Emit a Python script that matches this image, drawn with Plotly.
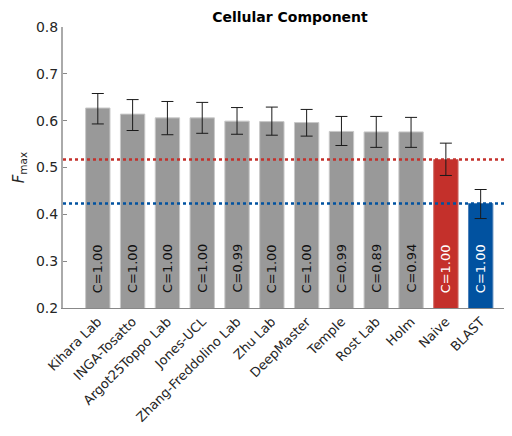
import plotly.graph_objects as go

categories = ["Kihara Lab", "INGA-Tosatto", "Argot25Toppo Lab", "Jones-UCL",
              "Zhang-Freddolino Lab", "Zhu Lab", "DeepMaster", "Temple",
              "Rost Lab", "Holm", "Naive", "BLAST"]
fmax = [0.627, 0.614, 0.606, 0.606, 0.599, 0.598, 0.596, 0.577, 0.576, 0.576, 0.517, 0.423]
err_hi = [0.658, 0.645, 0.641, 0.639, 0.628, 0.629, 0.624, 0.609, 0.609, 0.607, 0.552, 0.453]
err_lo = [0.593, 0.579, 0.570, 0.573, 0.571, 0.569, 0.567, 0.547, 0.543, 0.543, 0.483, 0.391]
coverage = ["1.00", "1.00", "1.00", "1.00", "0.99", "1.00", "1.00", "0.99", "0.89", "0.94", "1.00", "1.00"]

GRAY = "#999999"
RED = "#c4302b"
BLUE = "#0152a0"
colors = [GRAY] * 10 + [RED, BLUE]
edge = ["#c8c8c8"] * 10 + ["#d06a66", "#4d80b8"]
text_colors = ["#111111"] * 10 + ["white", "white"]

x = list(range(len(categories)))
YMIN, YMAX = 0.2, 0.8

fig = go.Figure()
fig.add_trace(go.Bar(
    x=x, y=fmax,
    width=0.7,
    marker=dict(color=colors, line=dict(color=edge, width=1)),
    error_y=dict(type="data", symmetric=False,
                 array=[h - v for h, v in zip(err_hi, fmax)],
                 arrayminus=[v - l for l, v in zip(err_lo, fmax)],
                 color="#1a1a1a", thickness=1, width=6),
    showlegend=False,
))

for xi, c, tc in zip(x, coverage, text_colors):
    fig.add_annotation(x=xi, y=YMIN, xref="x", yref="y", text="C=" + c,
                       textangle=-90, showarrow=False, xanchor="center",
                       yanchor="bottom", yshift=13,
                       font=dict(family="DejaVu Sans", size=13, color=tc))

fig.add_hline(y=fmax[10], line=dict(color=RED, width=2.5, dash="dot"), layer="above")
fig.add_hline(y=fmax[11], line=dict(color=BLUE, width=2.5, dash="dot"), layer="above")

fig.update_layout(
    width=504, height=428,
    margin=dict(l=55, r=0, t=19, b=128),
    paper_bgcolor="white", plot_bgcolor="white",
    font=dict(family="DejaVu Sans", color="#262626"),
    title=dict(text="<b>Cellular Component</b>", x=0.5595, xanchor="center",
               y=0.979, yanchor="middle", font=dict(size=14, color="black")),
    xaxis=dict(tickmode="array", tickvals=x, ticktext=categories, tickangle=-45,
               range=[-1.0, 11.9], showline=True, linecolor="#888888", linewidth=1,
               ticks="", showgrid=False, zeroline=False, automargin=False,
               tickfont=dict(size=13, color="#262626")),
    yaxis=dict(range=[YMIN, YMAX], tickvals=[0.2, 0.3, 0.4, 0.5, 0.6, 0.7, 0.8],
               ticktext=["0.2", "0.3", "0.4", "0.5", "0.6", "0.7", "0.8"],
               showline=True, linecolor="#aaaaaa", linewidth=2,
               ticks="inside", ticklen=4, tickcolor="#888888",
               showgrid=False, zeroline=False, automargin=False,
               tickfont=dict(size=14, color="#262626"),
               title=dict(text="<i>F</i><sub>max</sub>", font=dict(size=15, color="#262626"),
                          standoff=8)),
)

fig.write_html("out.html")
